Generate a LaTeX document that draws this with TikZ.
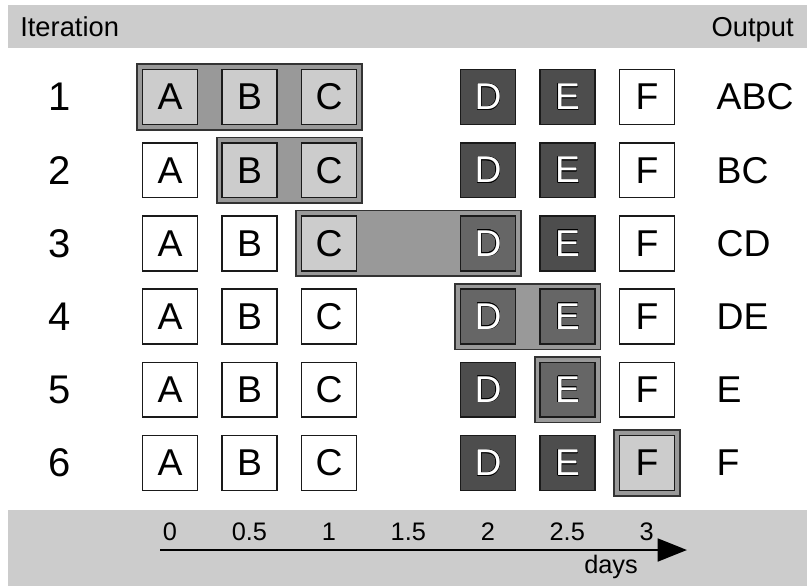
\documentclass[tikz,border=0pt]{standalone}
\usepackage{fontspec}
\setmainfont{Liberation Sans}
\usepackage{contour}
\contourlength{0.35pt}
\usetikzlibrary{arrows.meta, fit, backgrounds}
\definecolor{barGray}{HTML}{CCCCCC}
\definecolor{boxLight}{HTML}{CCCCCC}
\definecolor{boxDark}{HTML}{4D4D4D}
\definecolor{boxMid}{HTML}{666666}
\definecolor{boxLine}{HTML}{1A1A1A}
\definecolor{winFill}{HTML}{999999}
\definecolor{winLine}{HTML}{333333}

\begin{document}
\begin{tikzpicture}[x=0.75pt, y=-0.75pt,
  box/.style={rectangle, draw=boxLine, line width=1.2pt, minimum size=41pt,
              inner sep=0pt, font=\fontsize{28}{28}\selectfont},
  plain/.style={fill=white},
  lit/.style={fill=boxLight},
  dk/.style={fill=boxDark, text=white},
  dkhl/.style={fill=boxMid, text=white},
  win/.style={rectangle, draw=winLine, line width=1.2pt, fill=winFill,
              inner sep=3.5pt},
  num/.style={font=\fontsize{30}{30}\selectfont},
  outtext/.style={anchor=west, font=\fontsize{28}{28}\selectfont},
  head/.style={font=\fontsize{20.5}{20.5}\selectfont},
  tick/.style={anchor=base, font=\fontsize{19}{19}\selectfont},
  arrow/.style={-{Triangle[length=22pt, width=17pt]}, line width=2.2pt},
]
  \useasboundingbox (0,0) rectangle (807,586);

  % header and footer bars
  \fill[barGray] (8,5) rectangle (807,48);
  \fill[barGray] (8,510) rectangle (807,586);
  \node[head, anchor=base west, inner sep=0pt] (iter) at (20,36) {Iteration};
  \node[head, anchor=base east, inner sep=0pt] (output) at (794,36) {Output};

  % rows of tasks
  \foreach \r/\sa/\sb/\sc/\sd/\se/\sf/\o in {
      1/lit/lit/lit/dk/dk/plain/ABC,
      2/plain/lit/lit/dk/dk/plain/BC,
      3/plain/plain/lit/dkhl/dk/plain/CD,
      4/plain/plain/plain/dkhl/dkhl/plain/DE,
      5/plain/plain/plain/dk/dkhl/plain/E,
      6/plain/plain/plain/dk/dk/lit/F}{
    \pgfmathsetmacro{\y}{97+73.2*(\r-1)}
    \node[num] (n\r) at (60,\y) {\r};
    \node[box, \sa] (a\r) at (170,\y) {A};
    \node[box, \sb] (b\r) at (249.5,\y) {B};
    \node[box, \sc] (c\r) at (329,\y) {C};
    \node[box, \sd] (d\r) at (488,\y) {\contour{black}{D}};
    \node[box, \se] (e\r) at (567.5,\y) {\contour{black}{E}};
    \node[box, \sf] (f\r) at (647,\y) {F};
    \node[outtext] (o\r) at (712,\y) {\o};
  }

  % sliding windows
  \begin{scope}[on background layer]
    \node[win, fit=(a1)(c1)] (w1) {};
    \node[win, fit=(b2)(c2)] (w2) {};
    \node[win, fit=(c3)(d3)] (w3) {};
    \node[win, fit=(d4)(e4)] (w4) {};
    \node[win, fit=(e5)] (w5) {};
    \node[win, fit=(f6)] (w6) {};
  \end{scope}

  % time axis
  \foreach \v [count=\i from 0] in {0,0.5,1,1.5,2,2.5,3}
    \node[tick] (t\i) at ({170+158.9*\v},540) {\v};
  \coordinate (ax0) at (160,550);
  \coordinate (ax1) at (687,550);
  \draw[arrow] (ax0) -- (ax1);
  \node[tick] (days) at (611,573) {days};
\end{tikzpicture}
\end{document}
